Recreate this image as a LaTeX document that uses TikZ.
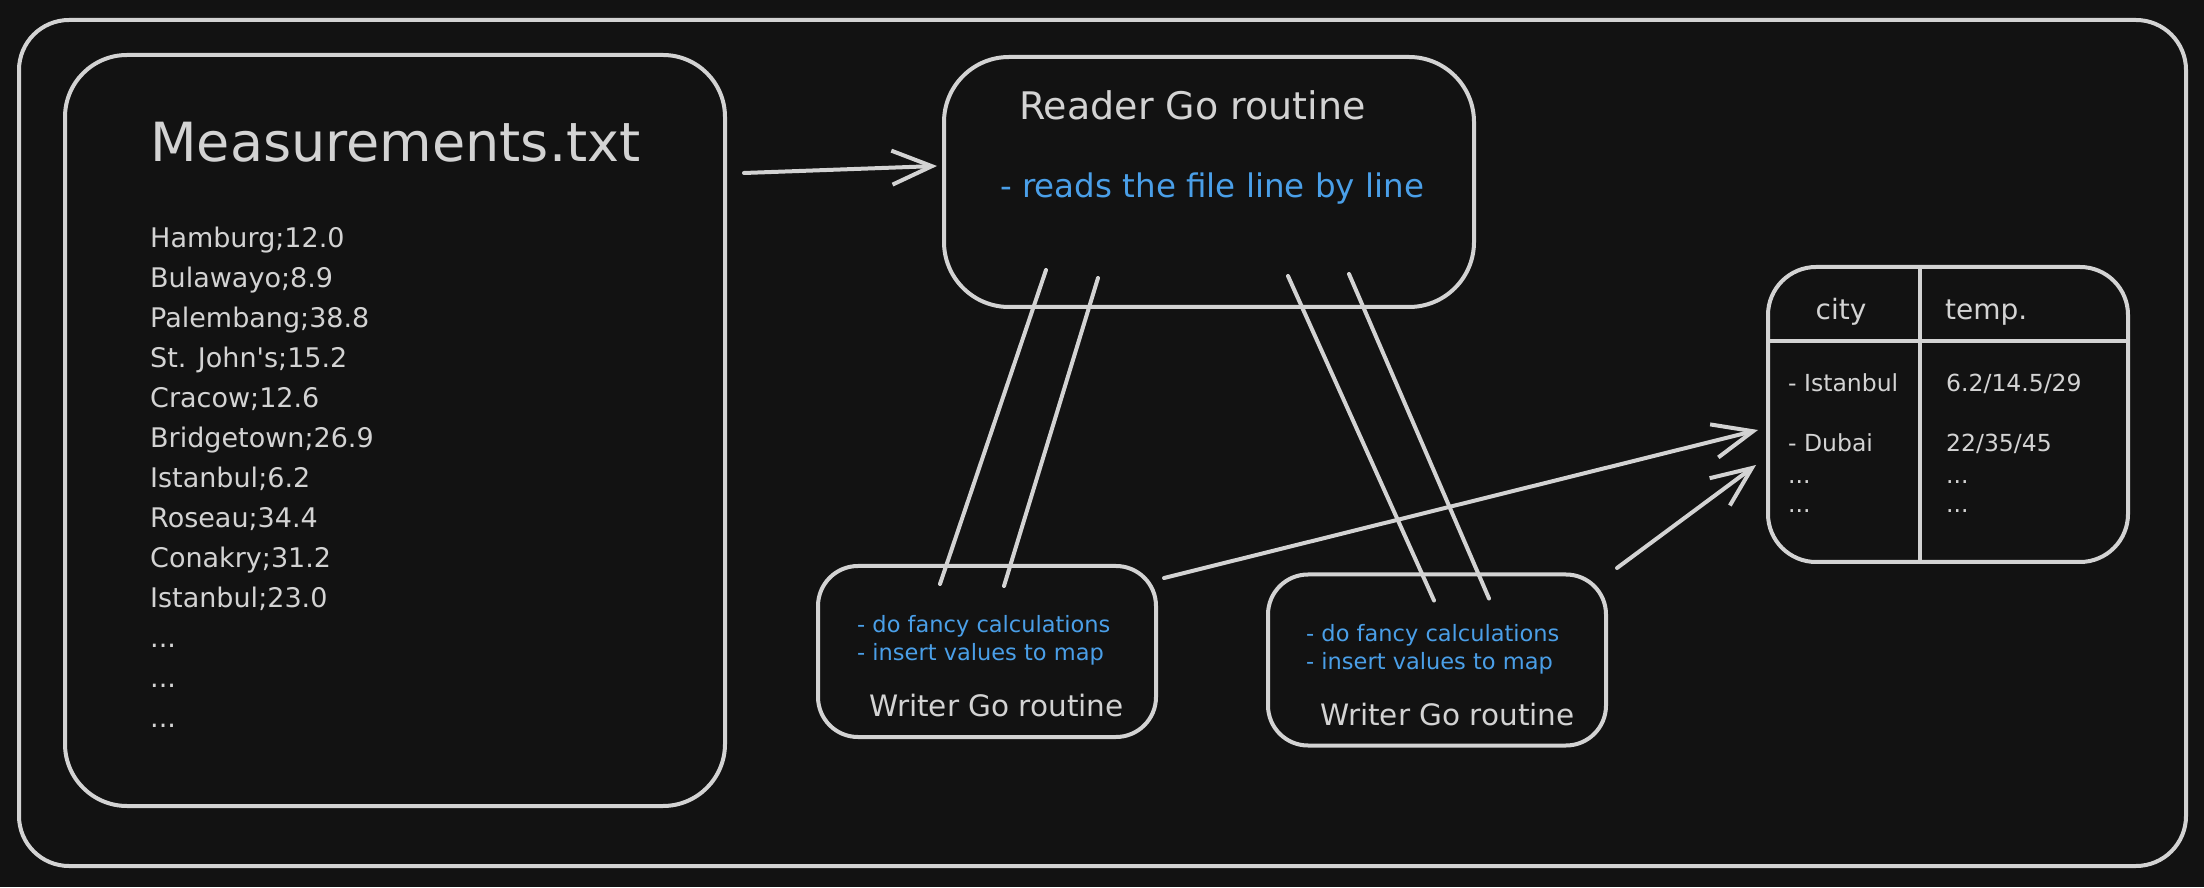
\documentclass[tikz,border=0pt]{standalone}
\usepackage{fontspec}
\setmainfont{DejaVu Sans}
\usepackage{xcolor}
\usetikzlibrary{positioning,arrows.meta}
\definecolor{night}{HTML}{121212}
\definecolor{chalk}{HTML}{D3D3D3}
\definecolor{note}{HTML}{4A9FE8}
\tikzstyle{sketchframe}=[draw=chalk, line width=4pt, rounded corners=50pt]
\tikzstyle{sketchbox}=[rectangle, draw=chalk, line width=4pt, fill=night, inner sep=0pt]
\tikzstyle{heading}=[text=chalk, anchor=base west, inner sep=0pt, align=left]
\tikzstyle{remark}=[text=note, anchor=base west, inner sep=0pt, align=left]
\tikzstyle{pipe}=[draw=chalk, line width=4pt, line cap=round]
\tikzstyle{flow}=[pipe, -{Straight Barb[length=40pt,width=34pt]}]

\begin{document}
\begin{tikzpicture}[x=1pt, y=1pt]
        \useasboundingbox (0,0) rectangle (2204,887);
        \fill[night] (0,0) rectangle (2204,887);
        \draw[sketchframe] (19,867) rectangle (2186,21);

        % input file (multi-line texts sit on their last baseline)
        \node (file) [sketchbox, minimum width=660pt, minimum height=751pt, rounded corners=62pt] at (395,456.5) {};
        \node (filetitle) [heading, font=\fontsize{54}{60}\selectfont] at ([shift={(87,-109)}]file.north west) {Measurements.txt};
        \node (filelist) [heading, font=\fontsize{27}{40}\selectfont] at ([shift={(87,-674)}]file.north west)
        {
          Hamburg;12.0\\ Bulawayo;8.9\\ Palembang;38.8\\ St. John\textquotesingle s;15.2\\ Cracow;12.6\\
          Bridgetown;26.9\\ Istanbul;6.2\\ Roseau;34.4\\ Conakry;31.2\\ Istanbul;23.0\\
          ...\\ ...\\ ...
        };

        % go routines
        \node (reader) [sketchbox, minimum width=530pt, minimum height=250pt, rounded corners=65pt] at (1209,705) {};
        \node (readertitle) [heading, font=\fontsize{38}{44}\selectfont] at ([shift={(77,-65)}]reader.north west) {Reader Go routine};
        \node (readernote) [remark, font=\fontsize{32.5}{38}\selectfont] at ([shift={(58,-143)}]reader.north west) {- reads the file line by line};

        \node (writerA) [sketchbox, minimum width=338pt, minimum height=171pt, rounded corners=40pt] at (987,235.5) {};
        \node (writerAnote) [remark, font=\fontsize{22.5}{28}\selectfont] at ([shift={(41,-97)}]writerA.north west)
        {
          - do fancy calculations\\ - insert values to map
        };
        \node (writerAtitle) [heading, font=\fontsize{29.5}{35}\selectfont] at ([shift={(53,-152)}]writerA.north west) {Writer Go routine};

        \node (writerB) [sketchbox, minimum width=338pt, minimum height=171pt, rounded corners=40pt, right=108pt of writerA, yshift=-8.5pt] {};
        \node (writerBnote) [remark, font=\fontsize{22.5}{28}\selectfont] at ([shift={(40,-96.5)}]writerB.north west)
        {
          - do fancy calculations\\ - insert values to map
        };
        \node (writerBtitle) [heading, font=\fontsize{29.5}{35}\selectfont] at ([shift={(54,-152.5)}]writerB.north west) {Writer Go routine};

        % result map
        \node (table) [sketchbox, minimum width=360pt, minimum height=295pt, rounded corners=48pt] at (1948,472.5) {};
        \coordinate (colsplit) at ([xshift=154pt]table.north west);
        \coordinate (rowsplit) at ([yshift=-76pt]table.north west);
        \draw[pipe, line cap=butt] (colsplit) -- (colsplit |- table.south);
        \draw[pipe, line cap=butt] (rowsplit) -- (rowsplit -| table.east);
        \node (cityhead) [heading, anchor=base, font=\fontsize{28}{34}\selectfont] at ([shift={(75,-55)}]table.north west) {city};
        \node (temphead) [heading, font=\fontsize{28}{34}\selectfont] at ([shift={(179,-55)}]table.north west) {temp.};
        \node (citylist) [heading, font=\fontsize{23.5}{29}\selectfont] at ([shift={(22,-248)}]table.north west)
        {
          - Istanbul\\[31pt] - Dubai\\[3pt] ...\\ ...
        };
        \node (templist) [heading, font=\fontsize{23.5}{29}\selectfont] at ([shift={(180,-248)}]table.north west)
        {
          6.2/14.5/29\\[31pt] 22/35/45\\[3pt] ...\\ ...
        };

        % channels and flow
        \draw[flow] ([xshift=17pt,yshift=9pt]file.east |- reader.west) -- ([xshift=-5pt,yshift=16pt]reader.west);
        \draw[pipe] ([shift={(-163,39)}]reader.south) -- ([shift={(-47,-20)}]writerA.north);
        \draw[pipe] ([shift={(-111,31)}]reader.south) -- ([shift={(17,-22)}]writerA.north);
        \draw[pipe] ([shift={(79,33)}]reader.south) -- ([shift={(-3,-28)}]writerB.north);
        \draw[pipe] ([shift={(140,35)}]reader.south) -- ([shift={(52,-26)}]writerB.north);
        \draw[flow] ([shift={(6,-14)}]writerA.north east) -- ([shift={(-8,-15.5)}]table.west);
        \draw[flow] ([shift={(9,4.5)}]writerB.north east) -- ([shift={(-10,-50.5)}]table.west);
      \end{tikzpicture}
\end{document}
